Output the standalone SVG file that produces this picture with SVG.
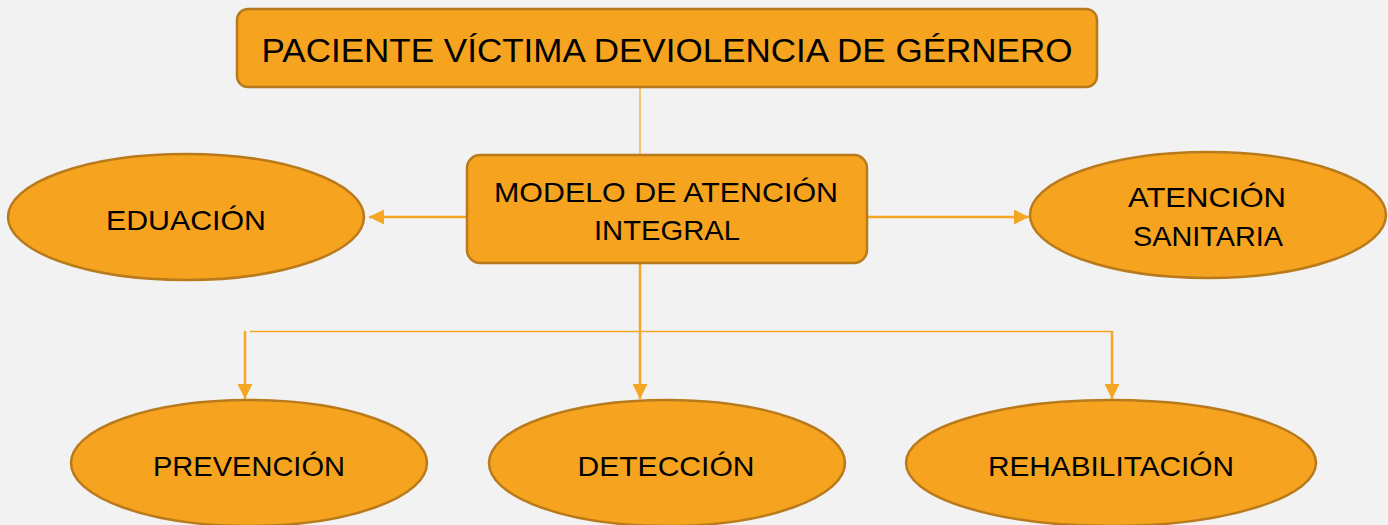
<svg xmlns="http://www.w3.org/2000/svg" width="1388" height="525" viewBox="0 0 1388 525">
<style>
.node{fill:#F6A31F;stroke:#B97A1C;stroke-width:2.5}
.lbl{font-family:"Liberation Sans",Arial,sans-serif;fill:#000;text-anchor:middle}
.big{font-size:33px}
.mid{font-size:28px}
.con{stroke:#F5A623;fill:none}
</style>
<defs>
<marker id="ah" viewBox="0 0 10 10" refX="10" refY="5" markerWidth="6" markerHeight="6" markerUnits="strokeWidth" orient="auto">
<path d="M0,0 L10,5 L0,10 Z" fill="#F5A623"/>
</marker>
</defs>
<rect width="1388" height="525" fill="#F2F2F2"/>
<g id="connectors">
<line class="con" x1="640" y1="88" x2="640" y2="155" stroke-width="1.2"/>
<line class="con" x1="467" y1="217" x2="369" y2="217" stroke-width="2.5" marker-end="url(#ah)"/>
<line class="con" x1="867" y1="217" x2="1029" y2="217" stroke-width="2.5" marker-end="url(#ah)"/>
<line class="con" x1="640" y1="264" x2="640" y2="399" stroke-width="2.5" marker-end="url(#ah)"/>
<line class="con" x1="250" y1="331.5" x2="1112" y2="331.5" stroke-width="1.6"/>
<line class="con" x1="245" y1="331" x2="245" y2="399" stroke-width="2.5" marker-end="url(#ah)"/>
<line class="con" x1="1112" y1="331" x2="1112" y2="399" stroke-width="2.5" marker-end="url(#ah)"/>
</g>
<g id="title">
<rect class="node" x="237" y="9" width="860" height="78" rx="11"/>
<text class="lbl big" x="667" y="62" textLength="811" lengthAdjust="spacingAndGlyphs">PACIENTE  VÍCTIMA DEVIOLENCIA DE GÉRNERO</text>
</g>
<g id="modelo">
<rect class="node" x="467" y="155" width="400" height="108" rx="13"/>
<text class="lbl mid" x="666" y="202" textLength="344" lengthAdjust="spacingAndGlyphs">MODELO DE ATENCIÓN</text>
<text class="lbl mid" x="667" y="240" textLength="146" lengthAdjust="spacingAndGlyphs">INTEGRAL</text>
</g>
<g id="educacion">
<ellipse class="node" cx="186" cy="217" rx="178" ry="63"/>
<text class="lbl mid" x="186" y="230" textLength="160" lengthAdjust="spacingAndGlyphs">EDUACIÓN</text>
</g>
<g id="atencion">
<ellipse class="node" cx="1208" cy="215" rx="178" ry="63"/>
<text class="lbl mid" x="1207" y="207" textLength="158" lengthAdjust="spacingAndGlyphs">ATENCIÓN</text>
<text class="lbl mid" x="1208" y="246" textLength="150" lengthAdjust="spacingAndGlyphs">SANITARIA</text>
</g>
<g id="prevencion">
<ellipse class="node" cx="249" cy="463" rx="178" ry="63"/>
<text class="lbl mid" x="249" y="476" textLength="192" lengthAdjust="spacingAndGlyphs">PREVENCIÓN</text>
</g>
<g id="deteccion">
<ellipse class="node" cx="667" cy="463" rx="178" ry="63"/>
<text class="lbl mid" x="666" y="476" textLength="177" lengthAdjust="spacingAndGlyphs">DETECCIÓN</text>
</g>
<g id="rehabilitacion">
<ellipse class="node" cx="1111" cy="463" rx="205" ry="63"/>
<text class="lbl mid" x="1111" y="476" textLength="246" lengthAdjust="spacingAndGlyphs">REHABILITACIÓN</text>
</g>
</svg>
